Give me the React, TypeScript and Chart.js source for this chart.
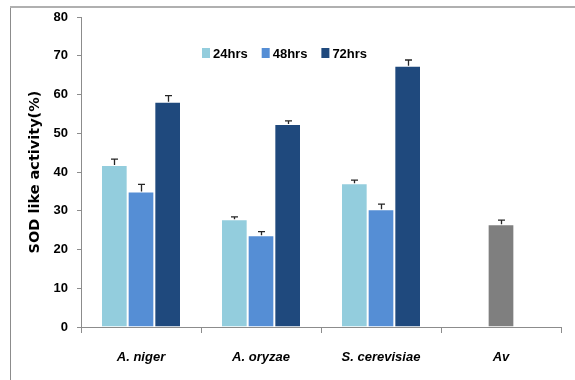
import React, { useEffect, useRef } from 'react';
import { Chart, registerables } from 'chart.js';

Chart.register(...registerables);

const categories = ['A. niger', 'A. oryzae', 'S. cerevisiae', 'Av'];
const seriesLabels = ['24hrs', '48hrs', '72hrs', 'Av'];
const values24 = [41.8, 27.8, 37.1, null];
const values48 = [35.0, 23.7, 30.4, null];
const values72 = [58.1, 52.4, 67.4, null];
const valuesAv = [null, null, null, 26.5];
const err24 = [1.5, 0.6, 0.8, null];
const err48 = [1.8, 0.9, 1.3, null];
const err72 = [1.6, 0.8, 1.5, null];
const errAv = [null, null, null, 1.1];
const yMin = 0;
const yMax = 80;
const yStep = 10;
const yTitle = 'SOD like activity(%)';

const colors = ['#93CDDD', '#558ED5', '#1F497D', '#7F7F7F'];
const NARROW = '"Liberation Sans Narrow", "Liberation Sans", Arial, sans-serif';

const errorSets = [err24, err48, err72, errAv];

const framePlugin = {
  id: 'frame',
  beforeDraw(chart: any) {
    const { ctx } = chart;
    ctx.save();
    ctx.strokeStyle = '#8c8c8c';
    ctx.lineWidth = 1;
    ctx.beginPath();
    ctx.moveTo(10.5, 6);
    ctx.lineTo(10.5, 380);
    ctx.stroke();
    ctx.strokeStyle = '#b0b0b0';
    ctx.lineWidth = 2;
    ctx.beginPath();
    ctx.moveTo(10, 7);
    ctx.lineTo(575, 7);
    ctx.stroke();
    ctx.restore();
  },
};

const errorBarPlugin = {
  id: 'errorBars',
  afterDatasetsDraw(chart: any) {
    const { ctx } = chart;
    const yScale = chart.scales.y;
    ctx.save();
    ctx.strokeStyle = '#262626';
    ctx.lineWidth = 1.3;
    chart.data.datasets.forEach((ds: any, di: number) => {
      const meta = chart.getDatasetMeta(di);
      const errs = errorSets[di];
      meta.data.forEach((bar: any, i: number) => {
        const v = ds.data[i];
        const e = errs[i];
        if (v == null || e == null) return;
        const x = Math.round(bar.x) + 0.5;
        const yTop = yScale.getPixelForValue(v + e);
        const yBase = yScale.getPixelForValue(v);
        ctx.beginPath();
        ctx.moveTo(x, yBase);
        ctx.lineTo(x, yTop);
        ctx.moveTo(x - 3.5, yTop);
        ctx.lineTo(x + 3.5, yTop);
        ctx.stroke();
      });
    });
    ctx.restore();
  },
};

const innerLegendPlugin = {
  id: 'innerLegend',
  afterDraw(chart: any) {
    const { ctx, chartArea } = chart;
    ctx.save();
    ctx.font = `bold 13px ${NARROW}`;
    ctx.textBaseline = 'middle';
    ctx.textAlign = 'left';
    let x = chartArea.left + 121;
    const cy = chartArea.top + 36;
    chart.data.datasets.slice(0, 3).forEach((ds: any) => {
      ctx.fillStyle = ds.backgroundColor;
      ctx.fillRect(x, cy - 5, 8, 10);
      x += 11;
      ctx.fillStyle = '#000';
      ctx.fillText(ds.label, x, cy + 1);
      x += ctx.measureText(ds.label).width + 14;
    });
    ctx.restore();
  },
};

export default function App() {
  const ref = useRef<HTMLCanvasElement>(null);

  useEffect(() => {
    if (!ref.current) return;
    const data = [values24, values48, values72, valuesAv];
    const chart = new Chart(ref.current, {
      type: 'bar',
      data: {
        labels: categories,
        datasets: data.map((d, i) => ({
          label: seriesLabels[i],
          data: d,
          backgroundColor: colors[i],
          borderColor: 'rgba(255,255,255,0.35)',
          borderWidth: 1,
          categoryPercentage: 2 / 3,
          barPercentage: 1,
          skipNull: true,
          maxBarThickness: i === 3 ? 26.7 : undefined,
        })) as any,
      },
      options: {
        responsive: false,
        animation: false,
        devicePixelRatio: 1,
        layout: { padding: { top: 17, right: 14, left: 0, bottom: 0 } },
        plugins: {
          legend: { display: false },
          tooltip: { enabled: false },
        },
        scales: {
          x: {
            offset: true,
            grid: {
              offset: true,
              drawOnChartArea: false,
              drawTicks: true,
              tickLength: 6,
              color: '#8c8c8c',
            },
            border: { color: '#8c8c8c', width: 1 },
            ticks: {
              color: '#000',
              padding: 17,
              font: { family: NARROW, size: 13, weight: 'bold', style: 'italic' },
            },
            afterFit: (s: any) => {
              s.height = 53;
            },
          },
          y: {
            min: yMin,
            max: yMax,
            ticks: {
              stepSize: yStep,
              color: '#000',
              padding: 9,
              font: { family: NARROW, size: 13, weight: 'bold' },
            },
            grid: {
              drawOnChartArea: false,
              drawTicks: true,
              tickLength: 4,
              color: '#8c8c8c',
            },
            border: { color: '#8c8c8c', width: 1 },
            title: {
              display: true,
              text: yTitle,
              color: '#000',
              padding: { top: 27, bottom: 0 },
              font: { family: '"DejaVu Sans", Verdana, sans-serif', size: 14.5, weight: 'bold' },
            },
            afterFit: (s: any) => {
              s.width = 81;
            },
          },
        },
      } as any,
      plugins: [framePlugin, errorBarPlugin, innerLegendPlugin],
    });
    return () => chart.destroy();
  }, []);

  return (
    <div style={{ position: 'absolute', left: 0, top: 0, width: 575, height: 380 }}>
      <canvas ref={ref} width={575} height={380} style={{ display: 'block' }} />
    </div>
  );
}
